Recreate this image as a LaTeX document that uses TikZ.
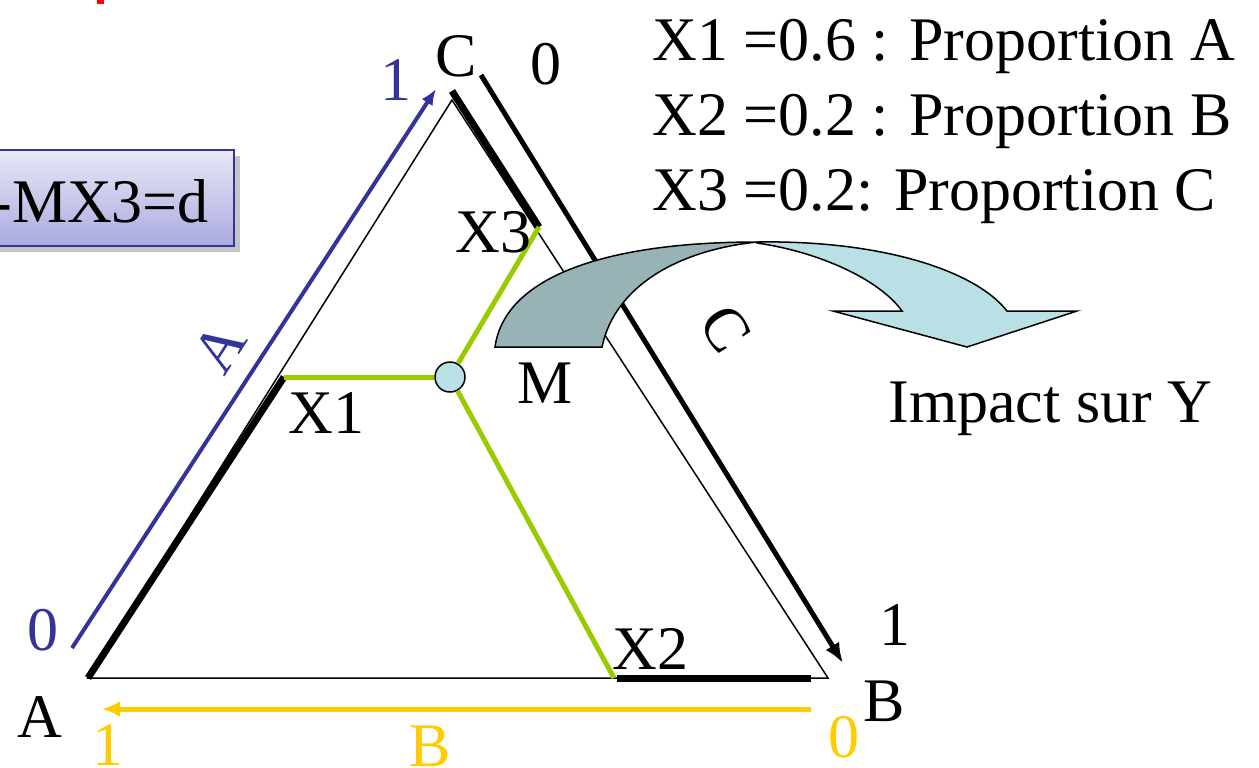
\documentclass[tikz,border=0pt]{standalone}
\usepackage{fontspec}
\setmainfont{Liberation Serif}
\usepackage{xcolor}
\usetikzlibrary{arrows.meta, positioning}

\definecolor{bleuA}{HTML}{333399}
\definecolor{jauneB}{HTML}{FFCC00}
\definecolor{vertM}{HTML}{99CC00}
\definecolor{bleuM}{HTML}{B9E0E4}
\definecolor{grisF}{HTML}{97B3B6}
\definecolor{lavH}{HTML}{E8E8F7}
\definecolor{lavB}{HTML}{AAAADF}

\begin{document}
\begin{tikzpicture}[x=0.5pt, y=-0.5pt, >=latex, font=\fontsize{31}{37}\selectfont,
    lbl/.style={inner sep=0pt, anchor=base},
    trait/.style={line width=3.5pt},
    vert/.style={vertM, line width=2.5pt}]
    \clip (0,0) rectangle (1259,767);

    % 1. Sommets du triangle et points X1, X2, X3
    \coordinate (A) at (88,678);
    \coordinate (B) at (828,678);
    \coordinate (C) at (452,100);
    \coordinate (X1) at (284,377);
    \coordinate (X2) at (614,678);
    \coordinate (X3) at (539,227);

    % 2. Triangle et segments epais
    \draw[line width=0.75pt] (A) -- (B) -- (C) -- cycle;
    \draw[trait] (A) -- (X1);
    \draw[trait] (452,91) -- (X3);
    \draw[trait] (617,678) -- (811,678);

    % 3. Axes gradues le long des cotes
    \draw[-{Latex[length=8pt,width=6.5pt]}, line width=2pt, bleuA] (72,648) -- (436,89);
    \draw[-{Latex[length=10pt,width=8pt]}, line width=2.5pt] (481,75) -- (843,663);
    \draw[-{Latex[length=9pt,width=8pt]}, line width=2.5pt, jauneB] (811,709) -- (102,709);

    % 4. Point M et ses projections
    \node[circle, draw, fill=bleuM, line width=0.75pt, minimum size=15pt, inner sep=0pt] (M) at (450,377) {};
    \draw[vert] (X1) -- (M);
    \draw[vert] (M) -- (X3);
    \draw[vert] (M) -- (X2);

    % 5. Fleche courbe vers l'impact
    \filldraw[fill=grisF, line width=0.75pt] (495,347) .. controls (505,275) and (610,242) .. (757,242)
        .. controls (680,250) and (615,285) .. (602,347) -- cycle;
    \filldraw[fill=bleuM, line width=0.75pt] (757,242) .. controls (880,240) and (975,270) .. (1007,311)
        -- (1077,311) -- (967,347) -- (833,311) -- (902,311)
        .. controls (880,280) and (820,252) .. (757,243) -- cycle;

    % 6. Encadre
    \fill[black!45, opacity=0.5] (-10,156) rectangle (240,252);
    \shadedraw[top color=lavH, bottom color=lavB, draw=bleuA, line width=1pt] (-10,150) rectangle (234,246);
    \node[lbl, anchor=base west] (dist) at (-9,222) {-MX3=d};
    \fill[red] (97,0) rectangle (104,4);

    % 7. Etiquettes
    \node[lbl] (labC) at (456,76) {C};
    \node[lbl] (labC0) at (546,84) {0};
    \node[lbl, text=bleuA] (labA1) at (396,100) {1};
    \node[lbl, text=bleuA] (labA0) at (43,650) {0};
    \node[lbl] (labA) at (40,737) {A};
    \node[lbl, text=jauneB] (labB1) at (108,765) {1};
    \node[lbl, text=jauneB] (labBn) at (430,766) {B};
    \node[lbl, text=jauneB] (labB0) at (844,757) {0};
    \node[lbl] (labB) at (884,721) {B};
    \node[lbl] (labC1) at (895,645) {1};
    \node[rotate=57, text=bleuA, inner sep=0pt] (axeA) at (220,348) {A};
    \node[rotate=-57, inner sep=0pt] (axeC) at (726,329) {C};
    \node[lbl, anchor=base west] (labX1) at (288,433) {X1};
    \node[lbl, anchor=base west] (labX2) at (612,669) {X2};
    \node[lbl, anchor=base west] (labX3) at (455,252) {X3};
    \node[lbl, anchor=base west] (labM) at (517,403) {M};

    % 8. Proportions et impact
    \node[lbl, anchor=base west] (prop1) at (652,60) {X1 =0.6 : Proportion A};
    \node[lbl, anchor=base west] (prop2) at (652,135) {X2 =0.2 : Proportion B};
    \node[lbl, anchor=base west] (prop3) at (652,210) {X3 =0.2: Proportion C};
    \node[lbl, anchor=base west] (impact) at (888,422) {Impact sur Y};
\end{tikzpicture}
\end{document}
